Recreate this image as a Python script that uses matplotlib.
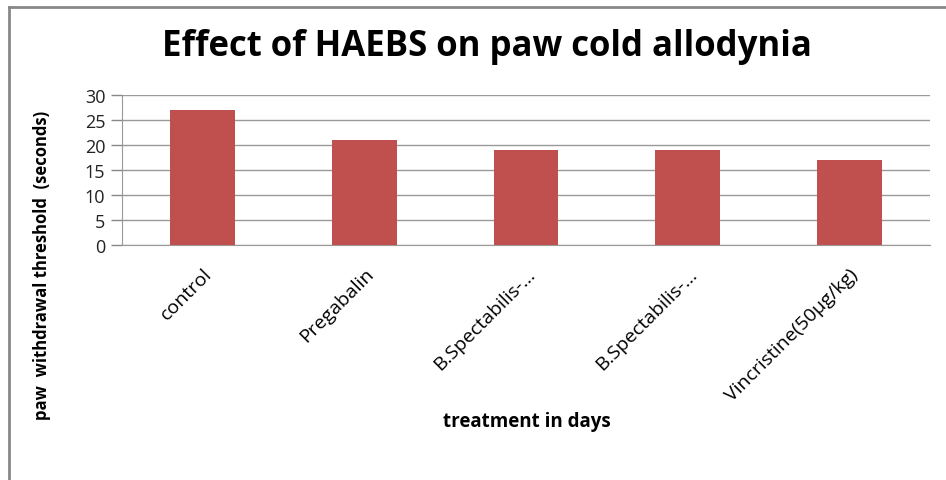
import matplotlib

matplotlib.use("Agg")
import matplotlib.pyplot as plt
from matplotlib.lines import Line2D

categories = ["control", "Pregabalin", "B.Spectabilis-…", "B.Spectabilis-…",
              "Vincristine(50µg/kg)"]
values = [27, 21, 19, 19, 17]
yticks = [0, 5, 10, 15, 20, 25, 30]

FONT = ["Open Sans", "DejaVu Sans"]
plt.rcParams["font.family"] = FONT

fig = plt.figure(figsize=(9.46, 4.81), dpi=100)
W, H = 946, 481
ax = fig.add_axes([122 / W, 1 - 246 / H, (930 - 122) / W, (246 - 96) / H])

x = range(len(categories))
ax.bar(x, values, width=0.4, color="#C0504D", zorder=3)
ax.set_xlim(-0.5, len(categories) - 0.5)
ax.set_ylim(0, 30)
ax.set_yticks(yticks)
ax.tick_params(axis="y", length=8, width=1, color="#888888", labelsize=13,
               pad=4, labelcolor="#222222")
ax.set_xticks(list(x))
ax.set_xticklabels(categories, rotation=45, ha="right", rotation_mode="anchor",
                   fontsize=14)
ax.tick_params(axis="x", length=0, pad=14)
ax.grid(axis="y", color="#999999", linewidth=1, zorder=0)
for side in ("top", "right"):
    ax.spines[side].set_visible(False)
ax.spines["left"].set_color("#999999")
ax.spines["bottom"].set_color("#999999")

ax.set_ylabel("paw  withdrawal threshold  (seconds)", fontsize=12,
              fontweight="bold")
ax.yaxis.set_label_coords(-0.088, -0.13)
fig.text(527 / W, 1 - 422 / H, "treatment in days", fontsize=13.5,
         fontweight="bold", ha="center", va="center")
fig.text(487 / W, 1 - 47 / H, "Effect of HAEBS on paw cold allodynia",
         fontsize=25, fontweight="bold", ha="center", va="center")

# outer chart frame (left and top edges visible)
fig.add_artist(Line2D([9 / W, 9 / W], [0, 1 - 8 / H], color="#888888",
                      linewidth=2, transform=fig.transFigure))
fig.add_artist(Line2D([9 / W, 1], [1 - 8 / H, 1 - 8 / H], color="#888888",
                      linewidth=2, transform=fig.transFigure))

fig.savefig("out.png", dpi=100)
